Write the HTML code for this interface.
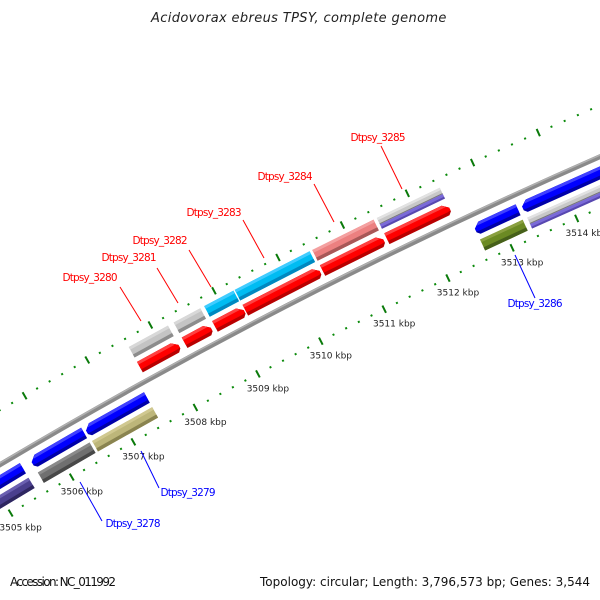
<!DOCTYPE html>
<html><head><meta charset="utf-8"><style>
html,body{margin:0;padding:0;background:#fff;}
svg{display:block;}
text{font-family:"DejaVu Sans","Liberation Sans",sans-serif;}
</style></head><body>
<svg id="chart" width="600" height="600" viewBox="0 0 600 600" xmlns="http://www.w3.org/2000/svg">
<rect width="600" height="600" fill="#fff"/>
<text x="299" y="22" text-anchor="middle" font-size="13" font-style="italic" fill="#222" letter-spacing="0.6" textLength="296">Acidovorax ebreus TPSY, complete genome</text>
<g id="ticks"></g>
<g id="backbone"></g>
<g id="features"></g>
<g id="labels"></g>
<text x="10" y="586" font-size="12" fill="#111" textLength="106">Accession: NC_011992</text>
<text x="590" y="586" text-anchor="end" font-size="12" fill="#111" textLength="330">Topology: circular; Length: 3,796,573 bp; Genes: 3,544</text>
</svg>
<script>
// ---- data (kbp) ----
const fwdNames  = ["Dtpsy_3280","Dtpsy_3281","Dtpsy_3282","Dtpsy_3283","Dtpsy_3284","Dtpsy_3285"];
const fwdStarts = [3507.59, 3508.30, 3508.78, 3509.26, 3510.47, 3511.47];
const fwdEnds   = [3508.21, 3508.72, 3509.24, 3510.43, 3511.42, 3512.44];
const fwdCog    = ["gray","gray","cyan","cyan","pink","graypurple"];
const revNames  = ["rev_a","Dtpsy_3278","Dtpsy_3279","Dtpsy_3286","rev_b"];
const revStarts = [3503.90, 3505.62, 3506.50, 3512.64, 3513.37];
const revEnds   = [3505.47, 3506.46, 3507.47, 3513.30, 3514.60];
const revCog    = ["slate","darkgray","khaki","olive","graypurple"];
const tickKbp   = [3503,3504,3505,3506,3507,3508,3509,3510,3511,3512,3513,3514,3515,3516];
const tickLabels= ["3503 kbp","3504 kbp","3505 kbp","3506 kbp","3507 kbp","3508 kbp","3509 kbp","3510 kbp","3511 kbp","3512 kbp","3513 kbp","3514 kbp","3515 kbp","3516 kbp"];

// ---- geometry ----
const NS="http://www.w3.org/2000/svg";
const CX=2792, CY=5165, K0=3505, A0=-120.875, DEG_PER_KBP=0.75;
const R_BB=5467, R_FWD=5482, R_FBAR=5499, R_UT=5514, R_REV=5452, R_RBAR=5435, R_LT=5420;
const H=12;
function ang(k){return A0+(k-K0)*DEG_PER_KBP;}
function pt(k,r){const a=ang(k)*Math.PI/180;return [CX+r*Math.cos(a),CY+r*Math.sin(a)];}
function pxLen(k1,k2,r){return (k2-k1)*DEG_PER_KBP*Math.PI/180*r;}
function el(tag,attrs,parent){const e=document.createElementNS(NS,tag);for(const a in attrs)e.setAttribute(a,attrs[a]);parent.appendChild(e);return e;}
function frame(k1,k2,r,parent){
  const km=(k1+k2)/2;
  const g=el('g',{transform:`rotate(${ang(km)+90} ${CX} ${CY}) translate(${CX} ${CY-r})`},parent);
  return [g,pxLen(k1,k2,r)];
}
const palette={
  red:["#ff4040","#ff0000","#b80000"], blue:["#4040ff","#0000ff","#0000a8"],
  gray:["#d8d8d8","#c4c4c4","#8c8c8c"], cyan:["#40ccff","#00bcf2","#0088c0"],
  pink:["#f4a0a0","#ec8080","#a85858"], slate:["#6a5fb0","#4a3f8e","#2e2660"],
  darkgray:["#8a8a8a","#707070","#484848"], khaki:["#d0c890","#bdb67a","#8a8450"],
  olive:["#8aa040","#6b8a23","#46601a"]
};

// ---- tick tracks ----
const tg=document.getElementById('ticks');
for(let i=35030;i<=35160;i+=2){
  const k=i/10;const major=(i%10===0);
  [R_UT,R_LT].forEach(r=>{
    const [g]=frame(k,k,r,tg);
    const t=el('rect',major?{x:-1,y:-4,width:2,height:8,fill:"#0a7a0a"}:{x:-1,y:-1,width:2,height:2,fill:"#0a8a0a"},g);
    
    
  });
}
tickKbp.forEach((k,i)=>{
  const p=pt(k,R_LT);
  const t=el('text',{x:(p[0]+10).toFixed(1),y:(p[1]+17.5).toFixed(1),'text-anchor':'middle','font-size':'9',fill:'#222'},tg);
  t.textContent=tickLabels[i];
  
  
});

// ---- backbone ----
const bg=document.getElementById('backbone');
[[R_BB,5,"#8a8a8a"],[R_BB+1.5,1.5,"#b0b0b0"]].forEach(([r,w,c])=>{
  const a=pt(3503,r),b=pt(3516,r);
  const p=el('path',{d:`M${a[0]} ${a[1]} A${r} ${r} 0 0 1 ${b[0]} ${b[1]}`,fill:"none",stroke:c,'stroke-width':w},bg);
  
  
});

// ---- features ----
const fg=document.getElementById('features');
function bar(k1,k2,r,cog,parent,name){
  const [g,L]=frame(k1,k2,r,parent);
  
  
  if(cog==="graypurple"){
    el('rect',{x:-L/2,y:-H/2,width:L,height:H,fill:"#c8c8c8"},g);
    el('rect',{x:-L/2,y:-H/2,width:L,height:2.5,fill:"#e2e2e2"},g);
    el('rect',{x:-L/2,y:0,width:L,height:1,fill:"#777"},g);
    el('rect',{x:-L/2,y:1,width:L,height:H/2-1,fill:"#7a6ad8"},g);
    el('rect',{x:-L/2,y:H/2-2,width:L,height:2,fill:"#5848b0"},g);
    return;
  }
  const c=palette[cog];
  el('rect',{x:-L/2,y:-H/2,width:L,height:H,fill:c[1]},g);
  el('rect',{x:-L/2,y:-H/2,width:L,height:3,fill:c[0]},g);
  el('rect',{x:-L/2,y:H/2-3.5,width:L,height:3.5,fill:c[2]},g);
}
function arrow(k1,k2,r,fwd,parent,name){
  const [g,L]=frame(k1,k2,r,parent);
  
  
  const c=fwd?palette.red:palette.blue;
  const s=fwd?1:-1, a=-L/2*s, b=L/2*s, hl=Math.min(6,L/3);
  const pts=(y1,y2)=>`${a},${y1} ${b-s*hl},${y1} ${b},${Math.max(y1,-H/2+5)} ${b},${Math.min(y2,H/2-3)} ${b-s*3},${y2} ${a},${y2}`;
  el('polygon',{points:pts(-H/2,H/2),fill:c[2]},g);
  el('polygon',{points:`${a},${-H/2} ${b-s*hl},${-H/2} ${b},${-H/2+5} ${b},${H/2-4} ${b-s*3},${H/2-3.5} ${a},${H/2-3.5}`,fill:c[1]},g);
  el('polygon',{points:`${a},${-H/2} ${b-s*hl},${-H/2} ${b-s*hl*0.5},${-H/2+3} ${a},${-H/2+3}`,fill:c[0]},g);
}
fwdNames.forEach((n,i)=>{
  bar(fwdStarts[i],fwdEnds[i],R_FBAR,fwdCog[i],fg,n);
  arrow(fwdStarts[i],fwdEnds[i],R_FWD,true,fg,n);
});
revNames.forEach((n,i)=>{
  bar(revStarts[i],revEnds[i],R_RBAR,revCog[i],fg,n);
  arrow(revStarts[i],revEnds[i],R_REV,false,fg,n);
});

// ---- gene labels ----
const lg=document.getElementById('labels');
const lab=[
  ["Dtpsy_3280",90,281,"#ff0000",[120,287,141,321]],
  ["Dtpsy_3281",129,261,"#ff0000",[157,268,178,303]],
  ["Dtpsy_3282",160,244,"#ff0000",[189,250,211,287]],
  ["Dtpsy_3283",214,216,"#ff0000",[243,220,264,258]],
  ["Dtpsy_3284",285,180,"#ff0000",[314,184,334,222]],
  ["Dtpsy_3285",378,141,"#ff0000",[381,146,402,189]],
  ["Dtpsy_3278",133,527,"#0000ff",[80,482,102,521]],
  ["Dtpsy_3279",188,496,"#0000ff",[141,451,159,488]],
  ["Dtpsy_3286",535,307,"#0000ff",[515,255,535,298]]
];
lab.forEach(([t,x,y,c,l])=>{
  const ln=el('line',{x1:l[0],y1:l[1],x2:l[2],y2:l[3],stroke:c,'stroke-width':1},lg);
  
  
  const tx=el('text',{x:x,y:y,'text-anchor':'middle','font-size':'10.5',fill:c,textLength:55},lg);
  tx.textContent=t;
  
  
});
</script>
</body></html>
